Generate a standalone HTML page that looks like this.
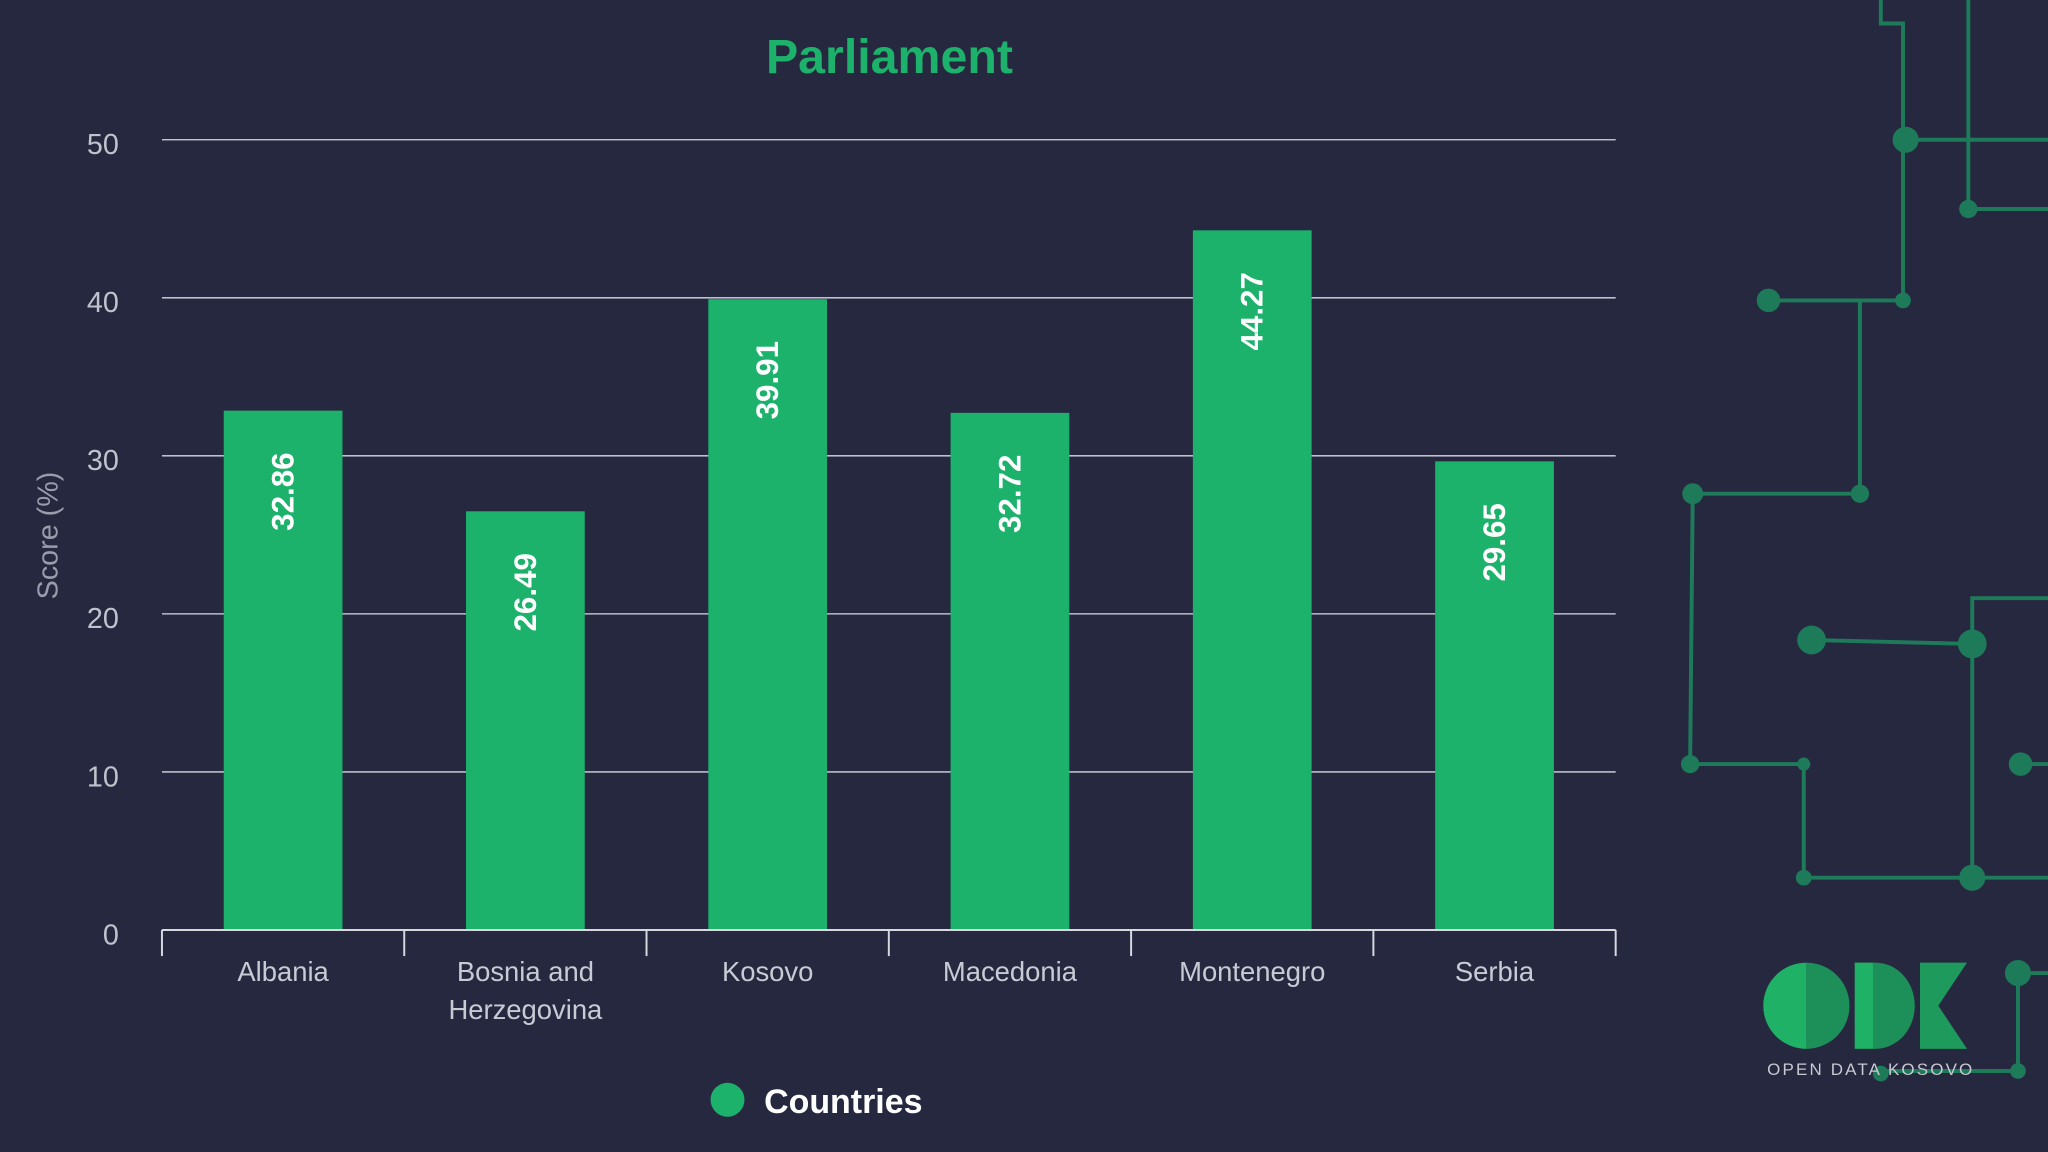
<!DOCTYPE html>
<html><head><meta charset="utf-8"><style>
html,body{margin:0;padding:0;background:#262840;}
svg{display:block;font-family:"Liberation Sans",sans-serif;}
</style></head><body>
<svg id="chart" width="2048" height="1152" viewBox="0 0 1568 882" xmlns="http://www.w3.org/2000/svg">
<rect width="1568" height="882" fill="#262840"/>
<g id="decor" stroke="#1d8a5e" stroke-width="3" fill="none" opacity="0.85">
<path d="M1440 0V18H1457V230H1354"/>
<path d="M1459 107H1568"/>
<path d="M1507 0V160H1568"/>
<path d="M1424 230V378H1296L1294 585H1381V672H1568"/>
<path d="M1387 490L1510 493V672"/>
<path d="M1510 493V458H1568"/>
<path d="M1547 585H1568"/>
<path d="M1545 745H1568M1545 745V820H1440"/>
<g fill="#1d8a5e" stroke="none">
<circle cx="1459" cy="107" r="10"/><circle cx="1507" cy="160" r="7"/>
<circle cx="1354" cy="230" r="9"/><circle cx="1457" cy="230" r="6"/>
<circle cx="1424" cy="378" r="7"/><circle cx="1296" cy="378" r="8"/>
<circle cx="1387" cy="490" r="11"/><circle cx="1510" cy="493" r="11"/>
<circle cx="1294" cy="585" r="7"/><circle cx="1381" cy="585" r="5"/>
<circle cx="1547" cy="585" r="9"/><circle cx="1381" cy="672" r="6"/>
<circle cx="1510" cy="672" r="10"/><circle cx="1545" cy="745" r="10"/>
<circle cx="1545" cy="820" r="6"/><circle cx="1440" cy="822" r="6"/>
</g></g>
<g>
<path d="M1383 737A33 33 0 0 0 1383 803Z" fill="#1fb266"/>
<path d="M1383 737A33 33 0 0 1 1383 803Z" fill="#1d8f58"/>
<rect x="1420" y="737" width="14" height="66" fill="#1fb266"/>
<path d="M1434 737H1436A30 33 0 0 1 1436 803H1434Z" fill="#1d8f58"/>
<path d="M1470 737V803H1506L1484 770L1506 737Z" fill="#1d9a5c"/>
<text x="1353" y="823" font-size="13" textLength="157" fill="#c8c8d0">OPEN DATA KOSOVO</text>
</g>
<text x="681" y="56" text-anchor="middle" font-size="37" font-weight="bold" fill="#1db26b">Parliament</text>
<text transform="translate(44,410) rotate(-90)" text-anchor="middle" font-size="22" fill="#9a9cab">Score (%)</text>
<g id="grid"></g><g id="bars"></g><g id="xaxis"></g>
<g>
<circle cx="557" cy="842" r="13" fill="#1db26b"/>
<text x="585" y="852" font-size="26" font-weight="bold" fill="#ffffff">Countries</text>
</g>
</svg>
<script>
const categories=["Albania","Bosnia and|Herzegovina","Kosovo","Macedonia","Montenegro","Serbia"];
const values=[32.86,26.49,39.91,32.72,44.27,29.65];
const yTicks=[0,10,20,30,40,50];
const NS="http://www.w3.org/2000/svg";
const x0=124,x1=1237,yb=712,yt=107,ymax=50;
const y=v=>yb-(v/ymax)*(yb-yt);
const bw=(x1-x0)/categories.length;
function mk(t,a,p){const e=document.createElementNS(NS,t);for(const k in a)e.setAttribute(k,a[k]);p.appendChild(e);return e;}
const grid=document.getElementById('grid'),bars=document.getElementById('bars'),xa=document.getElementById('xaxis');
yTicks.forEach(t=>{
 if(t>0){const l=mk('line',{x1:x0,x2:x1,y1:y(t),y2:y(t),stroke:'#d8d8e0','stroke-width':1},grid);
 
 }
 const tx=mk('text',{x:91,y:y(t)+11,'text-anchor':'end','font-size':22,fill:'#c0c2cc'},grid);tx.textContent=t;
 
 
});
const ax=mk('line',{x1:x0,x2:x1,y1:yb,y2:yb,stroke:'#d8d8e0','stroke-width':1.5},xa);


for(let i=0;i<=categories.length;i++){const tk=mk('line',{x1:x0+i*bw,x2:x0+i*bw,y1:yb,y2:yb+20,stroke:'#d8d8e0','stroke-width':1.5},xa);
 
 }
categories.forEach((c,i)=>{
 const cx=x0+(i+0.5)*bw,w=bw*0.49;
 const r=mk('rect',{x:cx-w/2,y:y(values[i]),width:w,height:yb-y(values[i]),fill:'#1db26b'},bars);
 
 
 const vt=mk('text',{transform:`translate(${cx+8},${y(values[i])+62}) rotate(-90)`,'text-anchor':'middle','font-size':24,'font-weight':'bold',fill:'#ffffff'},bars);
 vt.textContent=values[i].toFixed(2);
 
 
 c.split('|').forEach((ln,j)=>{const t=mk('text',{x:cx,y:751+j*29,'text-anchor':'middle','font-size':21,fill:'#c8cad4'},xa);t.textContent=ln;
 
 });
});
</script>
</body></html>
